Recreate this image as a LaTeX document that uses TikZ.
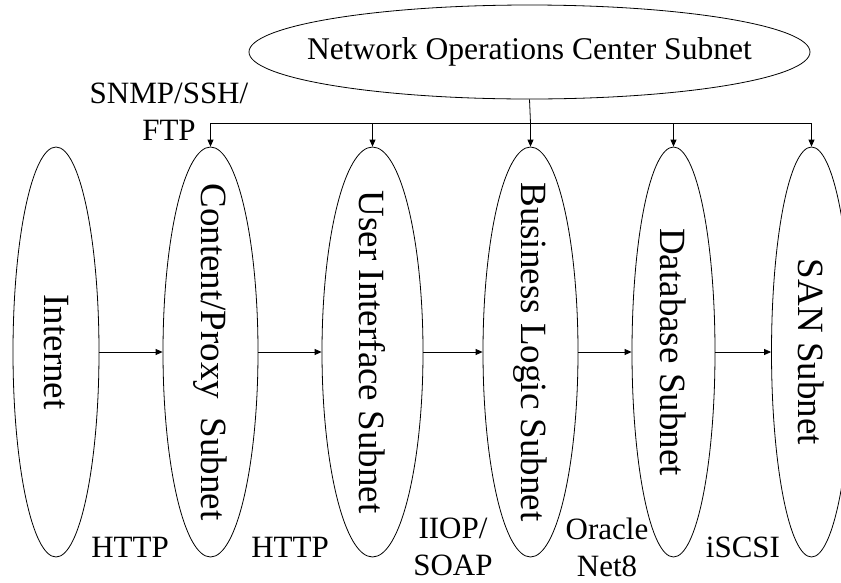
\documentclass[tikz,border=0pt]{standalone}
\usepackage{fontspec}
\setmainfont{Liberation Serif}
\usetikzlibrary{shapes.geometric,arrows.meta}
\tikzset{
  net/.style={draw=black, line width=0.8pt, ellipse, inner sep=0pt, minimum height=410pt},
  vtxt/.style={rotate=-90, inner sep=0pt, font=\fontsize{37}{40}\selectfont},
  lbl/.style={inner sep=0pt, align=center, font=\fontsize{31}{37}\selectfont},
  conn/.style={line width=0.8pt, draw=black},
  arr/.style={conn, -{Triangle[length=7pt,width=6pt]}},
}
\begin{document}
\begin{tikzpicture}[x=1pt,y=-1pt]
\useasboundingbox (0,0) rectangle (841,582);
\clip (0,0) rectangle (841,582);
\fill[white] (0,0) rectangle (841,582);
% top node
\node[draw=black, line width=0.8pt, ellipse, inner sep=0pt, minimum width=561pt, minimum height=94pt] (noc) at (529.5,52) {};
\node[inner sep=0pt, font=\fontsize{31.6}{37}\selectfont] (tnoc) at (noc.center) {Network Operations Center Subnet};
% subnets
\node[net, minimum width=86pt]  (inet) at (56,352)    {};
\node[net, minimum width=95pt]  (cp)   at (210.5,352) {};
\node[net, minimum width=101pt] (ui)   at (372.5,352) {};
\node[net, minimum width=95pt]  (bl)   at (530.5,352) {};
\node[net, minimum width=83pt]  (db)   at (673.5,352) {};
\node[net, minimum width=80pt]  (san)  at (811.5,352) {};
\node[vtxt] (tinet) at (inet.center) {Internet};
\node[vtxt] (tcp)   at (cp.center)   {Content/Proxy\ \ Subnet};
\node[vtxt] (tui)   at (ui.center)   {User Interface Subnet};
\node[vtxt] (tbl)   at (bl.center)   {Business Logic Subnet};
\node[vtxt] (tdb)   at (db.center)   {Database Subnet};
\node[vtxt] (tsan)  at (san.center)  {SAN Subnet};
% horizontal flow
\draw[arr] (inet.east) -- (cp.west);
\draw[arr] (cp.east) -- (ui.west);
\draw[arr] (ui.east) -- (bl.west);
\draw[arr] (bl.east) -- (db.west);
\draw[arr] (db.east) -- (san.west);
% management bus
\coordinate (j) at (530.5,123);
\draw[conn] (noc.south) -- (j);
\draw[arr] (j) -| (cp.north);
\draw[arr] (j) -| (ui.north);
\draw[arr] (j) -- (bl.north);
\draw[arr] (j) -| (db.north);
\draw[arr] (j) -| (san.north);
% labels
\node[lbl] (l0) at (169,112) {SNMP/SSH/\\FTP};
\node[lbl] (l1) at (130,547) {HTTP};
\node[lbl] (l2) at (290,547) {HTTP};
\node[lbl] (l3) at (453,547) {IIOP/\\SOAP};
\node[lbl] (l4) at (607,547) {Oracle\\Net8};
\node[lbl] (l5) at (743,547) {iSCSI};
\end{tikzpicture}
\end{document}
